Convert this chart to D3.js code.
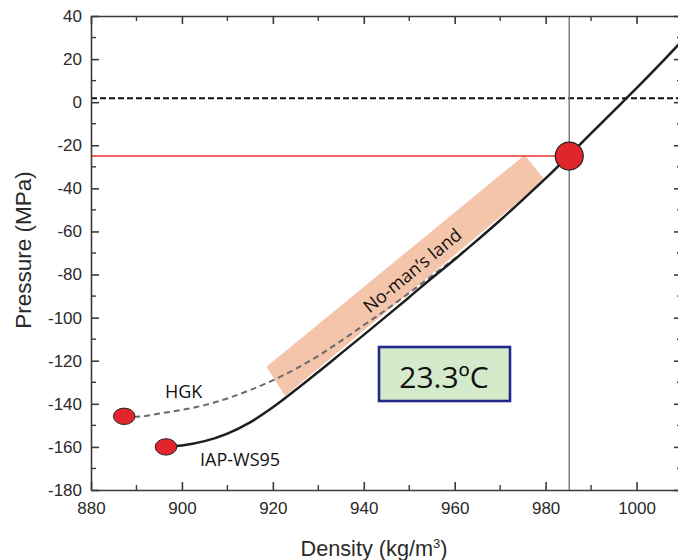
<!DOCTYPE html>
<html>
<head>
<meta charset="utf-8">
<script src="https://cdn.jsdelivr.net/npm/d3@7"></script>
<style>
  html, body { margin: 0; padding: 0; background: #fff; }
  svg { display: block; }
</style>
</head>
<body>
<svg id="chart" width="678" height="560"></svg>
<script>
// ---- data ----
const xDomain = [880, 1010];
const yDomain = [-180, 40];
const xTickValues = [880, 900, 920, 940, 960, 980, 1000];
const yTickValues = [-180, -160, -140, -120, -100, -80, -60, -40, -20, 0, 20, 40];
const xMinorTicks = [890, 910, 930, 950, 970, 990, 1010];
const yMinorTicks = [-170, -150, -130, -110, -90, -70, -50, -30, -10, 10, 30];

// IAP-WS95 (solid)
const iapDensity  = [896.5, 900, 905, 910, 915, 920, 925, 930, 935, 940, 945, 950, 955, 960, 965, 970, 975, 980, 985, 990, 995, 1000, 1005, 1010];
const iapPressure = [-160, -159.3, -157.3, -153.8, -148.6, -141.6, -133.6, -125.2, -116.6, -108, -99.3, -90.5, -81.6, -73, -64, -54.8, -45.2, -35.4, -25, -14.5, -4, 6.5, 17.3, 28.5];

// HGK (dashed)
const hgkDensity  = [887.3, 890, 895, 900, 905, 910, 915, 920, 925, 930, 935, 940, 945, 950, 955, 960, 963];
const hgkPressure = [-146, -146, -144.5, -142.8, -140.6, -137.5, -133.6, -129.1, -123.8, -117.7, -110.8, -103.5, -96.2, -88.5, -80.5, -72.6, -67.6];

// end points
const endLabels   = ["HGK", "IAP-WS95"];
const endDensity  = [887.3, 896.5];
const endPressure = [-145.8, -160];

// reference lines
const atmPressure = 1.8;
const cavPressure = -25;
const cavDensity  = 985.2;

// no-man's land band corners (density, pressure)
const bandDensity  = [918.6, 975.4, 979.8, 922.7];
const bandPressure = [-122.8, -24.5, -36.1, -136.4];

const tempLabel = "23.3ºC";
const bandLabel = "No-man’s land";

// ---- drawing ----
const svg = d3.select("#chart");
const x = d3.scaleLinear().domain(xDomain).range([91, 682]);
const y = d3.scaleLinear().domain(yDomain).range([490, 16]);

const axisColor = "#3a3a3a";
const tickFont = "'Liberation Sans', Arial, sans-serif";
const annFont = "'Open Sans', sans-serif";
const fmt = d => String(d);

// band
svg.append("polygon")
  .attr("points", bandDensity.map((d, i) => [x(d), y(bandPressure[i])].join(",")).join(" "))
  .attr("fill", "#f4c4ab");

// atmospheric dashed line
svg.append("line")
  .attr("x1", x(xDomain[0])).attr("x2", x(xDomain[1]))
  .attr("y1", y(atmPressure)).attr("y2", y(atmPressure))
  .attr("stroke", "#111").attr("stroke-width", 2)
  .attr("stroke-dasharray", "6,3");

// vertical grey line
svg.append("line")
  .attr("x1", x(cavDensity)).attr("x2", x(cavDensity))
  .attr("y1", y(yDomain[1])).attr("y2", y(yDomain[0]))
  .attr("stroke", "#808080").attr("stroke-width", 1.5);

// red horizontal line
svg.append("line")
  .attr("x1", x(xDomain[0])).attr("x2", x(cavDensity))
  .attr("y1", y(cavPressure)).attr("y2", y(cavPressure))
  .attr("stroke", "#e8322c").attr("stroke-width", 1.6);

const line = d3.line().x(d => x(d[0])).y(d => y(d[1])).curve(d3.curveMonotoneX);

// HGK dashed
svg.append("path")
  .datum(hgkDensity.map((d, i) => [d, hgkPressure[i]]))
  .attr("d", line)
  .attr("fill", "none").attr("stroke", "#6a6a6a").attr("stroke-width", 2)
  .attr("stroke-dasharray", "6,4");

// IAP solid
svg.append("path")
  .datum(iapDensity.map((d, i) => [d, iapPressure[i]]))
  .attr("d", line)
  .attr("fill", "none").attr("stroke", "#1e1e1e").attr("stroke-width", 2.5);

// end ellipses
svg.selectAll("ellipse.end")
  .data(endDensity)
  .enter().append("ellipse")
  .attr("class", "end")
  .attr("cx", d => x(d))
  .attr("cy", (d, i) => y(endPressure[i]))
  .attr("rx", 10.8).attr("ry", 8.2)
  .attr("fill", "#e0262a").attr("stroke", "#222").attr("stroke-width", 1);

// big circle
svg.append("circle")
  .attr("cx", x(cavDensity)).attr("cy", y(cavPressure))
  .attr("r", 14)
  .attr("fill", "#e0262a").attr("stroke", "#222").attr("stroke-width", 1.2);

// axes
function styleAxis(g) {
  g.selectAll("path.domain").attr("stroke", axisColor).attr("stroke-width", 1.6);
  g.selectAll(".tick line").attr("stroke", axisColor).attr("stroke-width", 1.6);
  g.selectAll(".tick text").attr("fill", "#2a2a2a").attr("font-family", tickFont).attr("font-size", 17);
}
const gB = svg.append("g").attr("transform", `translate(0,${y(yDomain[0])})`)
  .call(d3.axisBottom(x).tickValues(xTickValues).tickSizeInner(-8).tickSizeOuter(0).tickPadding(12).tickFormat(fmt));
styleAxis(gB);
const gT = svg.append("g").attr("transform", `translate(0,${y(yDomain[1])})`)
  .call(d3.axisTop(x).tickValues(xTickValues).tickSizeInner(-8).tickSizeOuter(0).tickFormat(""));
styleAxis(gT);
const gL = svg.append("g").attr("transform", `translate(${x(xDomain[0])},0)`)
  .call(d3.axisLeft(y).tickValues(yTickValues).tickSizeInner(-8).tickSizeOuter(0).tickPadding(9).tickFormat(fmt));
styleAxis(gL);
const gR = svg.append("g").attr("transform", `translate(${x(xDomain[1])},0)`)
  .call(d3.axisRight(y).tickValues(yTickValues).tickSizeInner(-8).tickSizeOuter(0).tickFormat(""));
styleAxis(gR);

// minor ticks
[[gB, -1], [gT, 1]].forEach(([g, s]) => {
  g.selectAll("line.minor").data(xMinorTicks).enter().append("line")
    .attr("x1", d => x(d)).attr("x2", d => x(d))
    .attr("y1", 0).attr("y2", s * 5)
    .attr("stroke", axisColor).attr("stroke-width", 1.4);
});
[[gL, 1], [gR, -1]].forEach(([g, s]) => {
  g.selectAll("line.minor").data(yMinorTicks).enter().append("line")
    .attr("y1", d => y(d)).attr("y2", d => y(d))
    .attr("x1", 0).attr("x2", s * 5)
    .attr("stroke", axisColor).attr("stroke-width", 1.4);
});

// axis titles
svg.append("text")
  .attr("transform", `translate(31,250) rotate(-90)`)
  .attr("text-anchor", "middle")
  .attr("font-family", tickFont).attr("font-size", 22.5).attr("fill", "#2a2a2a")
  .text("Pressure (MPa)");

const xt = svg.append("text")
  .attr("x", 374).attr("y", 556)
  .attr("text-anchor", "middle")
  .attr("font-family", tickFont).attr("font-size", 21.7).attr("fill", "#2a2a2a");
xt.append("tspan").text("Density (kg/m");
xt.append("tspan").attr("dy", -8).attr("font-size", 13).text("3");
xt.append("tspan").attr("dy", 8).text(")");

// curve labels
svg.append("text").attr("x", 165).attr("y", 398)
  .attr("font-family", annFont).attr("font-size", 18).attr("fill", "#111")
  .text(endLabels[0]);
svg.append("text").attr("x", 200).attr("y", 466)
  .attr("font-family", annFont).attr("font-size", 18).attr("fill", "#111")
  .text(endLabels[1]);

// band label
svg.append("text")
  .attr("transform", "translate(412,270) rotate(-39.5)")
  .attr("text-anchor", "middle").attr("dominant-baseline", "central")
  .attr("font-family", annFont).attr("font-size", 18).attr("fill", "#111")
  .text(bandLabel);

// temperature box
svg.append("rect")
  .attr("x", 379).attr("y", 347).attr("width", 131).attr("height", 54)
  .attr("fill", "#d3eacb").attr("stroke", "#23298a").attr("stroke-width", 2.6);
svg.append("text")
  .attr("x", 444).attr("y", 388)
  .attr("text-anchor", "middle")
  .attr("font-family", annFont).attr("font-size", 30).attr("fill", "#111")
  .text(tempLabel);
</script>
</body>
</html>
